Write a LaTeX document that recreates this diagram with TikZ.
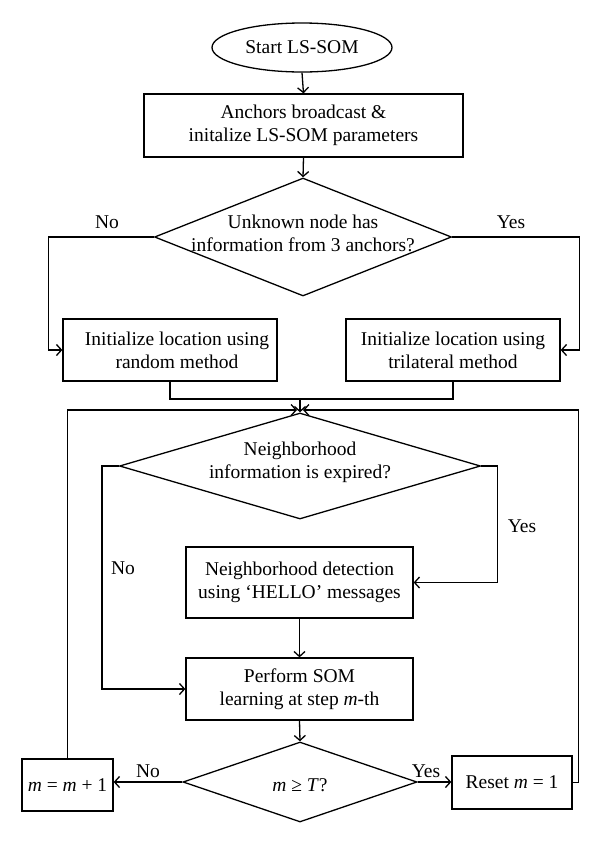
\documentclass[tikz,border=0pt]{standalone}
\usepackage{fontspec}
\setmainfont{Liberation Serif}
\usetikzlibrary{shapes.geometric,arrows.meta}
\begin{document}
\begin{tikzpicture}[x=1pt,y=-1pt, line width=1.3pt,
  >={Straight Barb[length=5pt,width=11pt]},
  every node/.style={font=\fontsize{19.5}{23}\selectfont},
  box/.style={draw, rectangle, align=center, inner sep=0pt},
  dia/.style={draw, diamond, inner sep=0pt},
  lbl/.style={inner sep=0pt, align=center}
]
\useasboundingbox[fill=white] (0,0) rectangle (600,847);

\node[draw, ellipse, minimum width=180pt, minimum height=49pt, inner sep=0pt] (start) at (302,47.5) {Start LS-SOM};
\node[box, minimum width=319pt, minimum height=63pt] (anch) at (303.5,125.5) {Anchors broadcast \&\\initalize LS-SOM parameters};
\node[dia, minimum width=297pt, minimum height=118pt] (d1) at (303,237) {};
\node[lbl] (d1t) at (303,233) {Unknown node has\\information from 3 anchors?};
\node[box, minimum width=214pt, minimum height=62pt] (rnd) at (170,350) {\hspace*{14pt}Initialize location using\\\hspace*{14pt}random method};
\node[box, minimum width=214pt, minimum height=62pt] (tri) at (453,350) {Initialize location using\\trilateral method};

\node[dia, minimum width=361pt, minimum height=106pt] (d2) at (300,466) {};
\node[lbl] (d2t) at (300,462) {Neighborhood\\information is expired?};
\node[box, minimum width=227pt, minimum height=71pt] (hello) at (299.5,582.5) {Neighborhood detection\\using ‘HELLO’ messages};
\node[box, minimum width=227pt, minimum height=62pt] (som) at (299.5,689) {Perform SOM\\learning at step \textit{m}-th};
\node[dia, minimum width=234pt, minimum height=80pt] (d3) at (300,782) {};
\node[lbl] (d3t) at (300,785) {\textit{m} ≥ \textit{T}?};
\node[box, minimum width=91pt, minimum height=52pt] (inc) at (67.5,785) {\textit{m} = \textit{m} + 1};
\node[box, minimum width=120pt, minimum height=53pt] (reset) at (512,782.5) {Reset \textit{m} = 1};

\node[lbl] (no1) at (107,222) {No};
\node[lbl] (yes1) at (511,222) {Yes};
\node[lbl] (no2) at (123,568) {No};
\node[lbl] (yes2) at (522,526) {Yes};
\node[lbl] (no3) at (148,771) {No};
\node[lbl] (yes3) at (426,771) {Yes};

\coordinate (m1) at (300,399);
\coordinate (lj) at (297,410);
\coordinate (rj) at (303,410);

\draw[->] (start.south) -- (anch.north);
\draw[->] (anch.south) -- (d1.north);
\draw[->] (d1.west) -| ([xshift=-14pt]rnd.west) -- (rnd.west);
\draw[->] (d1.east) -| ([xshift=19pt]tri.east) -- (tri.east);
\draw (rnd.south) -- (rnd.south |- m1) -- (tri.south |- m1) -- (tri.south);
\draw[->] (m1) -- (d2.north);
\draw[->] (inc.north) |- (lj);
\draw[->] (reset.east) -- ++(6,0) |- (rj);
\draw[->] (d2.west) -- ++(-17,0) |- (som.west);
\draw[->] (d2.east) -- ++(16,0) |- (hello.east);
\draw[->] (hello.south) -- (som.north);
\draw[->] (som.south) -- (d3.north);
\draw[->] (d3.west) -- (d3.west -| inc.east);
\draw[->] (d3.east) -- (d3.east -| reset.west);
\end{tikzpicture}
\end{document}
